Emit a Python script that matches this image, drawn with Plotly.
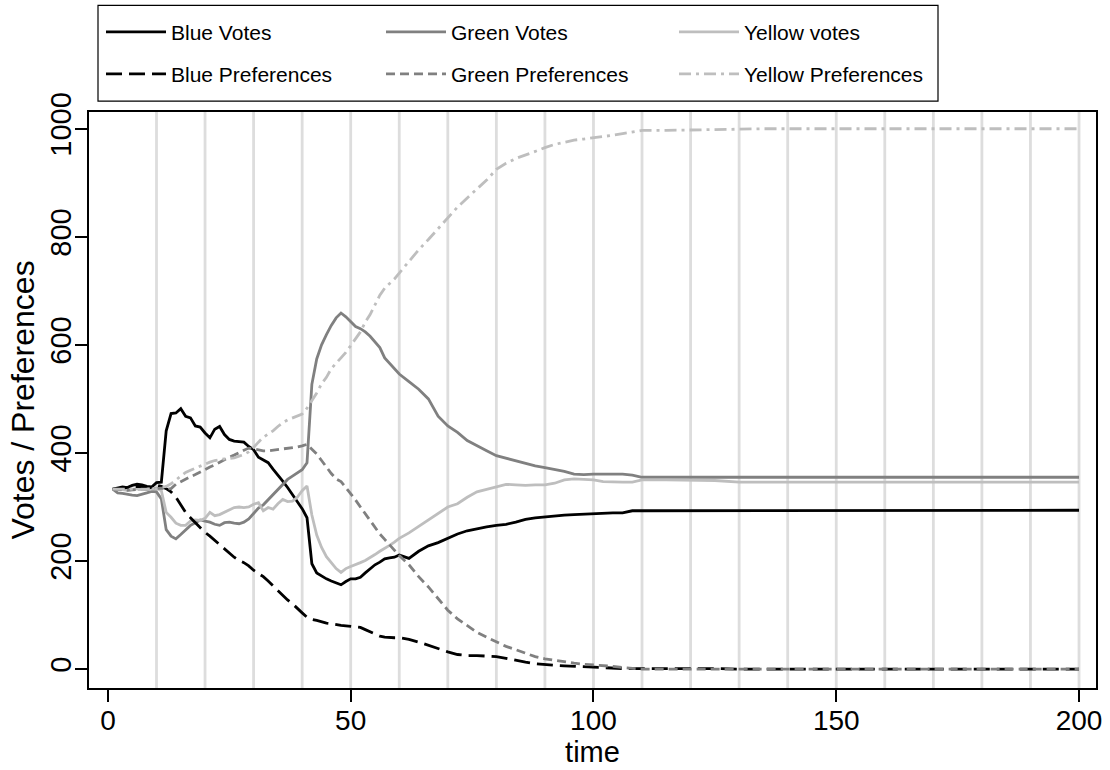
import plotly.graph_objects as go

# time steps (dense while the system is moving, sparser once it has settled)
time = list(range(1, 61)) + list(range(62, 111, 2)) + list(range(115, 201, 5))

blue_votes = [
    333, 335, 337, 336, 340, 342, 341, 338, 337, 345,
    346, 441, 473, 474, 482, 468, 465, 450, 448, 437,
    428, 444, 449, 434, 425, 422, 421, 420, 412, 406,
    392, 387, 382, 370, 360, 348, 336, 323, 310, 297,
    280, 195, 178, 172, 167, 163, 160, 156, 162, 167,
    167, 170, 178, 186, 193, 198, 204, 206, 207, 211,
    205, 218, 228, 234, 242, 250, 256, 260, 263, 266,
    268, 272, 277, 280, 282, 284, 285, 286, 287, 288,
    289, 289, 289, 293, 293,
    293, 293, 293, 294, 294, 294, 294, 294, 294, 294,
    294, 294, 294, 294, 294, 294, 294, 294,
]
green_votes = [
    333, 326, 325, 323, 322, 321, 323, 326, 329, 328,
    315, 258, 246, 241, 249, 258, 266, 271, 276, 274,
    272, 268, 266, 271, 272, 270, 269, 272, 278, 288,
    298, 304, 313, 324, 333, 341, 351, 357, 363, 369,
    382, 527, 574, 600, 619, 636, 650, 659, 652, 643,
    634, 630, 624, 616, 605, 595, 576, 566, 556, 546,
    532, 518, 500, 468, 450, 438, 423, 413, 404, 395,
    390, 386, 381, 376, 373, 370, 366, 361, 360, 361,
    361, 361, 361, 359, 355,
    355, 355, 355, 355, 355, 355, 355, 355, 355, 355,
    355, 355, 355, 355, 355, 355, 355, 355,
]
yellow_votes = [
    333, 333, 332, 331, 333, 334, 333, 332, 333, 335,
    330, 290, 281, 270, 266, 266, 274, 276, 275, 279,
    290, 284, 286, 290, 295, 299, 300, 299, 300, 305,
    308, 293, 299, 296, 306, 314, 310, 311, 318, 330,
    339, 285, 248, 225, 208, 197, 186, 179, 186, 190,
    193, 197, 201, 206, 212, 218, 223, 229, 235, 242,
    252, 264, 276, 289, 300, 306, 318, 328, 333, 338,
    342, 341, 340, 341, 341, 344, 350, 352, 351, 350,
    347, 346, 346, 346, 350,
    350, 350, 349, 346, 346, 346, 346, 346, 346, 346,
    346, 346, 346, 346, 346, 346, 346, 346,
]
blue_prefs = [
    333, 334, 336, 337, 338, 338, 337, 336, 336, 340,
    338, 334, 328, 318, 305, 290, 280, 271, 262, 253,
    246, 238, 230, 222, 214, 207, 201, 197, 191, 183,
    177, 171, 163, 154, 145, 136, 128, 121, 112, 104,
    96, 92, 90, 87, 85, 84, 82, 81, 80, 79,
    78, 77, 73, 69, 65, 61, 59, 58, 58, 58,
    55, 50, 44, 37, 32, 27, 25, 25, 24, 23,
    20, 16, 13, 10, 8, 7, 6, 5, 5, 4,
    3, 2, 1, 1, 1,
    1, 2, 1, 0, 0, 0, 0, 0, 0, 0,
    0, 0, 0, 0, 0, 0, 0, 0,
]
green_prefs = [
    333, 333, 332, 331, 332, 333, 333, 333, 334, 335,
    335, 333, 334, 342, 347, 351, 356, 360, 365, 369,
    374, 378, 383, 387, 392, 396, 401, 405, 409, 407,
    405, 404, 404, 405, 407, 408, 409, 410, 411, 413,
    416, 407, 398, 386, 373, 362, 352, 347, 336, 325,
    313, 300, 287, 275, 262, 250, 240, 230, 220, 210,
    193, 171, 152, 130, 109, 93, 81, 68, 59, 50,
    42, 36, 29, 23, 19, 16, 13, 11, 9, 8,
    7, 5, 3, 1, 0,
    0, 0, 0, 0, 0, 0, 0, 0, 0, 0,
    0, 0, 0, 0, 0, 0, 0, 0,
]
yellow_prefs = [
    333, 333, 334, 334, 333, 332, 332, 333, 334, 334,
    336, 338, 343, 350, 358, 364, 368, 372, 376, 380,
    383, 386, 388, 389, 390, 391, 394, 397, 402, 410,
    420, 429, 435, 441, 449, 456, 461, 465, 468, 472,
    483, 497, 511, 528, 540, 556, 567, 576, 586, 598,
    610, 624, 642, 656, 674, 692, 705, 713, 722, 733,
    755, 776, 795, 815, 835, 855, 872, 888, 905, 925,
    936, 945, 951, 958, 965, 971, 975, 979, 981, 983,
    986, 988, 991, 994, 997,
    997, 998, 999, 1000, 1000, 1000, 1000, 1000, 1000, 1000,
    1000, 1000, 1000, 1000, 1000, 1000, 1000, 1000,
]

x_ticks = [0, 50, 100, 150, 200]
y_ticks = [0, 200, 400, 600, 800, 1000]
event_times = [10, 20, 30, 40, 50, 60, 70, 80, 90, 100,
               110, 120, 130, 140, 150, 160, 170, 180, 190, 200]

BLACK = "#000000"
MID = "#808080"
LIGHT = "#bebebe"
FONT = "Liberation Sans, Arial, Helvetica, sans-serif"

W, H = 1110, 770
ML, MR, MT, MB = 89, 14, 110, 82
pw, ph = W - ML - MR, H - MT - MB


def px_x(p):
    return (p - ML) / pw


def px_y(p):
    return 1 + (MT - p) / ph


# legend layout: two rows of three entries, each entry its own legend box
legend_cols = [101, 381, 674]
legend_rows = [30, 72]

series = [
    ("Blue Votes", blue_votes, BLACK, "solid"),
    ("Green Votes", green_votes, MID, "solid"),
    ("Yellow votes", yellow_votes, LIGHT, "solid"),
    ("Blue Preferences", blue_prefs, BLACK, "16px,7px"),
    ("Green Preferences", green_prefs, MID, "9px,5px"),
    ("Yellow Preferences", yellow_prefs, LIGHT, "12px,5px,3px,5px"),
]

fig = go.Figure()
legend_layout = {}
for i, (name, vals, color, dash) in enumerate(series):
    key = "legend" if i == 0 else f"legend{i + 1}"
    fig.add_trace(go.Scatter(
        x=time, y=vals, mode="lines", name=name, legend=key,
        line=dict(color=color, width=2.8, dash=dash),
    ))
    legend_layout[key] = dict(
        x=px_x(legend_cols[i % 3]), y=px_y(legend_rows[i // 3]),
        xanchor="left", yanchor="middle", orientation="v",
        bgcolor="rgba(0,0,0,0)", borderwidth=0,
        font=dict(family=FONT, size=21, color="black"),
        itemwidth=60,
    )

# light vertical reference lines every 10 time units
for t in event_times:
    fig.add_shape(type="line", xref="x", yref="paper", x0=t, x1=t, y0=0, y1=1,
                  line=dict(color="#dddddd", width=2.8), layer="below")

# legend frame
fig.add_shape(type="rect", xref="paper", yref="paper",
              x0=px_x(98), x1=px_x(938), y0=px_y(99), y1=px_y(3),
              line=dict(color="black", width=1.2), fillcolor="white", layer="above")

axis_common = dict(
    ticks="outside", ticklen=12, tickwidth=1.5, tickcolor="black",
    showline=True, linewidth=1.5, linecolor="black", mirror=True,
    showgrid=False, zeroline=False, automargin=False,
)

fig.update_layout(
    width=W, height=H,
    margin=dict(l=ML, r=MR, t=MT, b=MB, pad=0),
    paper_bgcolor="white", plot_bgcolor="white",
    font=dict(family=FONT, size=24, color="black"),
    showlegend=True,
    xaxis=dict(
        range=[-3.9, 203.5], tickvals=x_ticks,
        tickfont=dict(size=28), ticklabelstandoff=-5,
        title=dict(text="time", font=dict(size=29), standoff=0),
        **axis_common,
    ),
    yaxis=dict(
        range=[-35, 1031], tickvals=y_ticks, tickangle=-90,
        tickfont=dict(size=29), ticklabelstandoff=-7,
        title=dict(text="Votes / Preferences", font=dict(size=32), standoff=0),
        **axis_common,
    ),
    **legend_layout,
)

fig.write_html("out.html")
